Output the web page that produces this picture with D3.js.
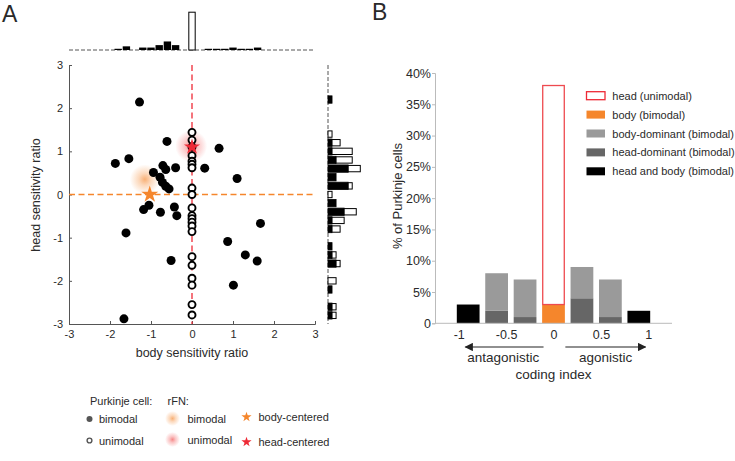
<!DOCTYPE html>
<html><head><meta charset="utf-8">
<script src="https://cdn.jsdelivr.net/npm/d3@7"></script>
<style>
body{margin:0;background:#fff;}
svg{font-family:"Liberation Sans",Arial,Helvetica,sans-serif;}
</style></head>
<body>
<svg id="chart" width="735" height="461"></svg>
<script>
// ---------- Panel A data ----------
const bimodalX = [-1.28,-0.61,0.66,-1.87,-1.54,-0.71,-0.64,-0.40,0.31,-0.94,-0.78,-0.72,-0.64,-0.56,1.10,-1.18,-1.05,-0.77,-0.43,-0.37,1.67,-1.61,0.87,1.30,-0.51,1.59,1.01,-1.66];
const bimodalY = [2.14,1.23,1.07,0.72,0.83,0.67,0.58,0.62,0.61,0.51,0.40,0.28,0.19,0.13,0.37,-0.35,-0.25,-0.41,-0.29,-0.49,-0.67,-0.89,-1.09,-1.40,-1.53,-1.54,-2.10,-2.88];
const unimodalY = [1.44,1.26,1.10,0.90,0.77,0.70,0.62,0.15,0.00,-0.31,-0.49,-0.56,-0.64,-0.73,-0.86,-1.44,-1.64,-1.94,-2.10,-2.55,-2.79];
const unimodalX = unimodalY.map(() => 0);
const bodyStar = [-1.03, 0.0];
const headStar = [0.0, 1.10];
const bodyGlow = [-1.15, 0.35];
const headGlow = [-0.02, 1.12];
const scatterTicks = [-3,-2,-1,0,1,2,3];

// marginal histograms (bin centres, counts)
const topBlackCenters = [-1.8,-1.6,-1.2,-1.0,-0.8,-0.6,-0.4,0.4,0.6,0.8,1.0,1.2,1.4,1.6];
const topBlackCounts  = [1,3,2,2,4,7,4,1,1,1,2,1,1,2];
const topWhiteCenters = [0.0];
const topWhiteCounts  = [31];
const rightCenters = [2.2,1.4,1.2,1.0,0.8,0.6,0.4,0.2,0.0,-0.2,-0.4,-0.6,-0.8,-1.2,-1.4,-1.6,-2.0,-2.2,-2.6,-2.8];
const rightBlack   = [1,0,1,1,2,5,2,5,0,2,4,1,1,1,1,2,0,1,1,1];
const rightWhite   = [0,1,2,5,4,3,0,1,1,0,3,3,2,0,1,1,2,0,1,1];

// ---------- Panel B data ----------
const codingBins = [-0.9,-0.6,-0.3,0,0.3,0.6,0.9];
const headUni    = [0,0,0,35,0,0,0];
const bodyBi     = [0,0,0,3,0,0,0];
const bodyDom    = [0,6,6,0,5,6,0];
const headDom    = [0,2,1,0,4,1,0];
const headBody   = [3,0,0,0,0,0,2];
const pctTicks = [0,5,10,15,20,25,30,35,40];
const codingTicks = [-1,-0.5,0,0.5,1];
const legendB = ["head (unimodal)","body (bimodal)","body-dominant (bimodal)","head-dominant (bimodal)","head and body (bimodal)"];

const ORANGE = "#f5862c", RED = "#ee2a36", REDBAR = "#ee4a4f";
const LGRAY = "#9a9a9a", DGRAY = "#666666";
const TXT = "#2a2a2a";

const svg = d3.select("#chart");
const defs = svg.append("defs");
function glow(id, color, o){
  const g = defs.append("radialGradient").attr("id", id);
  g.append("stop").attr("offset","0%").attr("stop-color",color).attr("stop-opacity",o);
  g.append("stop").attr("offset","40%").attr("stop-color",color).attr("stop-opacity",o*0.5);
  g.append("stop").attr("offset","100%").attr("stop-color",color).attr("stop-opacity",0);
}
glow("gOrange", ORANGE, 0.65);
glow("gRed", "#f03a3a", 0.6);
const star = d3.symbol().type(d3.symbolStar);

// ---------- Panel A ----------
const x = d3.scaleLinear().domain([-3,3]).range([69,315]);
const y = d3.scaleLinear().domain([-3,3]).range([324,65]);

svg.append("text").attr("x",2).attr("y",22).attr("font-size",23).attr("fill",TXT).text("A");

const gA = svg.append("g");
const ax = gA.append("g").attr("transform","translate(0,324)")
  .call(d3.axisBottom(x).tickValues(scatterTicks).tickSize(-3).tickPadding(6).tickFormat(d3.format("d")));
const ay = gA.append("g").attr("transform","translate(69,0)")
  .call(d3.axisLeft(y).tickValues(scatterTicks).tickSize(-3).tickPadding(6).tickFormat(d3.format("d")));
[ax, ay].forEach(a=>{
  a.select(".domain").attr("stroke","#555");
  a.selectAll(".tick line").attr("stroke","#555");
  a.selectAll("text").attr("font-size",11).attr("fill",TXT).attr("font-family","Liberation Sans, Arial, sans-serif");
});
ax.selectAll("text").text(d => d<0 ? "-"+Math.abs(d) : d);
ay.selectAll("text").text(d => d<0 ? "-"+Math.abs(d) : d);

gA.append("text").attr("x",192).attr("y",357).attr("text-anchor","middle").attr("font-size",12.5).attr("fill",TXT).text("body sensitivity ratio");
gA.append("text").attr("transform","translate(40,195) rotate(-90)").attr("text-anchor","middle").attr("font-size",12.5).attr("fill",TXT).text("head sensitivity ratio");

// glows
gA.append("circle").attr("cx",x(bodyGlow[0])).attr("cy",y(bodyGlow[1])).attr("r",15).attr("fill","url(#gOrange)");
gA.append("circle").attr("cx",x(headGlow[0])).attr("cy",y(headGlow[1])).attr("r",16).attr("fill","url(#gRed)");

// dashed reference lines
gA.append("line").attr("x1",x(-3)).attr("x2",x(3)).attr("y1",y(0)).attr("y2",y(0))
  .attr("stroke",ORANGE).attr("stroke-width",1.6).attr("stroke-dasharray","6,3.5");
gA.append("line").attr("x1",x(0)).attr("x2",x(0)).attr("y1",y(3)).attr("y2",y(-3))
  .attr("stroke",RED).attr("stroke-width",1.3).attr("stroke-dasharray","6,3.5");

// points
gA.selectAll("circle.bi").data(bimodalX.map((v,i)=>[v,bimodalY[i]])).join("circle")
  .attr("class","bi").attr("cx",d=>x(d[0])).attr("cy",d=>y(d[1])).attr("r",4.5).attr("fill","#000");
gA.selectAll("circle.uni").data(unimodalX.map((v,i)=>[v,unimodalY[i]])).join("circle")
  .attr("class","uni").attr("cx",d=>x(d[0])).attr("cy",d=>y(d[1])).attr("r",3.5)
  .attr("fill","#fff").attr("stroke","#000").attr("stroke-width",1.9);

// stars
gA.append("path").attr("d",star.size(90)()).attr("transform",`translate(${x(bodyStar[0])},${y(bodyStar[1])})`).attr("fill",ORANGE);
gA.append("path").attr("d",star.size(80)()).attr("transform",`translate(${x(headStar[0])},${y(headStar[1])})`).attr("fill",RED);

// top histogram
const hTop = d3.scaleLinear().domain([0,31]).range([0,37.8]);
const baseTop = 50, bwTop = (x(0.2)-x(0))*0.9;
svg.append("line").attr("x1",x(-3)).attr("x2",x(3)).attr("y1",baseTop).attr("y2",baseTop)
  .attr("stroke","#555").attr("stroke-width",1).attr("stroke-dasharray","4,2");
svg.selectAll("rect.tb").data(topBlackCenters.map((c,i)=>[c,topBlackCounts[i]])).join("rect")
  .attr("class","tb").attr("x",d=>x(d[0])-bwTop/2).attr("width",bwTop)
  .attr("y",d=>baseTop-hTop(d[1])).attr("height",d=>hTop(d[1])).attr("fill","#000");
svg.selectAll("rect.tw").data(topWhiteCenters.map((c,i)=>[c,topWhiteCounts[i]])).join("rect")
  .attr("class","tw").attr("x",d=>x(d[0])-bwTop/2+0.5).attr("width",bwTop-1)
  .attr("y",d=>baseTop-hTop(d[1])).attr("height",d=>hTop(d[1])).attr("fill","#fff").attr("stroke","#000").attr("stroke-width",1);

// right histogram
const wR = d3.scaleLinear().domain([0,8]).range([0,32.3]);
const baseR = 328, bhR = (y(0)-y(0.2))*0.85;
svg.append("line").attr("x1",baseR).attr("x2",baseR).attr("y1",y(3)).attr("y2",y(-3))
  .attr("stroke","#555").attr("stroke-width",1).attr("stroke-dasharray","4,2");
const rData = rightCenters.map((c,i)=>({c, b:rightBlack[i], w:rightWhite[i]}));
svg.selectAll("rect.rb").data(rData.filter(d=>d.b>0)).join("rect")
  .attr("class","rb").attr("x",baseR).attr("y",d=>y(d.c)-bhR/2).attr("height",bhR)
  .attr("width",d=>wR(d.b)).attr("fill","#000").attr("stroke","#000").attr("stroke-width",0.8);
svg.selectAll("rect.rw").data(rData.filter(d=>d.w>0)).join("rect")
  .attr("class","rw").attr("x",d=>baseR+wR(d.b)).attr("y",d=>y(d.c)-bhR/2+0.5).attr("height",bhR-1)
  .attr("width",d=>wR(d.w)).attr("fill","#fff").attr("stroke","#000").attr("stroke-width",1);

// Panel A legend
const lg = svg.append("g").attr("font-size",11).attr("fill",TXT);
lg.append("text").attr("x",90).attr("y",405).text("Purkinje cell:");
lg.append("circle").attr("cx",89.5).attr("cy",419).attr("r",3).attr("fill","#555");
lg.append("text").attr("x",99).attr("y",423).text("bimodal");
lg.append("circle").attr("cx",89.5).attr("cy",440.5).attr("r",2.4).attr("fill","#fff").attr("stroke","#555").attr("stroke-width",1.4);
lg.append("text").attr("x",99).attr("y",444.5).text("unimodal");
lg.append("text").attr("x",167.5).attr("y",405).text("rFN:");
lg.append("circle").attr("cx",172.5).attr("cy",418.5).attr("r",7.5).attr("fill","url(#gOrange)");
lg.append("text").attr("x",187.5).attr("y",422.5).text("bimodal");
lg.append("circle").attr("cx",172.5).attr("cy",439.5).attr("r",7.5).attr("fill","url(#gRed)");
lg.append("text").attr("x",187.5).attr("y",443.5).text("unimodal");
lg.append("path").attr("d",star.size(32)()).attr("transform","translate(246.5,417)").attr("fill",ORANGE);
lg.append("text").attr("x",258.5).attr("y",421).text("body-centered");
lg.append("path").attr("d",star.size(32)()).attr("transform","translate(246.5,442)").attr("fill",RED);
lg.append("text").attr("x",258.5).attr("y",446).text("head-centered");

// ---------- Panel B ----------
svg.append("text").attr("x",372).attr("y",20).attr("font-size",23).attr("fill",TXT).text("B");
const xb = d3.scaleLinear().domain([-1.25,1.25]).range([435,672]);
const yb = d3.scaleLinear().domain([0,40]).range([323.3,73]);
const gB = svg.append("g");
const bw = xb(0.24)-xb(0);

const stackRows = codingBins.map((c,i)=>({c, hb:headBody[i], hd:headDom[i], bd:bodyDom[i], bo:bodyBi[i], hu:headUni[i]}));
gB.selectAll("rect.hb").data(stackRows.filter(d=>d.hb>0)).join("rect").attr("class","hb")
  .attr("x",d=>xb(d.c)-bw/2).attr("width",bw).attr("y",d=>yb(d.hb)).attr("height",d=>yb(0)-yb(d.hb)).attr("fill","#000");
gB.selectAll("rect.hd").data(stackRows.filter(d=>d.hd>0)).join("rect").attr("class","hd")
  .attr("x",d=>xb(d.c)-bw/2).attr("width",bw).attr("y",d=>yb(d.hd)).attr("height",d=>yb(0)-yb(d.hd)).attr("fill",DGRAY);
gB.selectAll("rect.bd").data(stackRows.filter(d=>d.bd>0)).join("rect").attr("class","bd")
  .attr("x",d=>xb(d.c)-bw/2).attr("width",bw).attr("y",d=>yb(d.hd+d.bd)).attr("height",d=>yb(d.hd)-yb(d.hd+d.bd)).attr("fill",LGRAY);
gB.selectAll("rect.bo").data(stackRows.filter(d=>d.bo>0)).join("rect").attr("class","bo")
  .attr("x",d=>xb(d.c)-bw/2).attr("width",bw).attr("y",d=>yb(d.bo)).attr("height",d=>yb(0)-yb(d.bo)).attr("fill",ORANGE);
gB.selectAll("rect.hu").data(stackRows.filter(d=>d.hu>0)).join("rect").attr("class","hu")
  .attr("x",d=>xb(d.c)-bw/2+0.6).attr("width",bw-1.2).attr("y",d=>yb(d.bo+d.hu)).attr("height",d=>yb(d.bo)-yb(d.bo+d.hu))
  .attr("fill","none").attr("stroke",REDBAR).attr("stroke-width",1.3);

const axB = gB.append("g").attr("transform",`translate(0,${yb(0)})`)
  .call(d3.axisBottom(xb).tickValues(codingTicks).tickSize(0).tickPadding(7).tickFormat(d=> d===0?"0":(d<0?"-"+Math.abs(d):d)));
const ayB = gB.append("g").attr("transform",`translate(${xb(-1.25)},0)`)
  .call(d3.axisLeft(yb).tickValues(pctTicks).tickSize(3).tickPadding(1).tickFormat(d=> d===0?"0":d+"%"));
[axB, ayB].forEach(a=>{
  a.select(".domain").attr("stroke","#bbb").attr("stroke-width",1);
  a.selectAll(".tick line").attr("stroke","#bbb");
  a.selectAll("text").attr("font-size",12.5).attr("fill",TXT).attr("font-family","Liberation Sans, Arial, sans-serif");
});
axB.select(".domain").attr("d",`M${xb(-1.25)},0H${xb(1.25)}`);

gB.append("text").attr("transform",`translate(402,196) rotate(-90)`).attr("text-anchor","middle")
  .attr("font-size",13).attr("fill",TXT).text("% of Purkinje cells");

// arrows
defs.append("marker").attr("id","arr").attr("viewBox","0 0 10 10").attr("refX",9).attr("refY",5)
  .attr("markerWidth",7).attr("markerHeight",7).attr("orient","auto-start-reverse")
  .append("path").attr("d","M0,0L10,5L0,10z").attr("fill","#222");
gB.append("line").attr("x1",xb(-0.105)).attr("x2",xb(-0.93)).attr("y1",347).attr("y2",347)
  .attr("stroke","#222").attr("stroke-width",1.2).attr("marker-end","url(#arr)");
gB.append("line").attr("x1",xb(0.125)).attr("x2",xb(0.97)).attr("y1",347).attr("y2",347)
  .attr("stroke","#222").attr("stroke-width",1.2).attr("marker-end","url(#arr)");
gB.append("text").attr("x",xb(-0.53)).attr("y",362).attr("text-anchor","middle").attr("font-size",13.5).attr("fill",TXT).text("antagonistic");
gB.append("text").attr("x",xb(0.55)).attr("y",362).attr("text-anchor","middle").attr("font-size",13.5).attr("fill",TXT).text("agonistic");
gB.append("text").attr("x",xb(0)).attr("y",379).attr("text-anchor","middle").attr("font-size",13.5).attr("fill",TXT).text("coding index");

// legend B
const legFill = ["#fff",ORANGE,LGRAY,DGRAY,"#000"];
const lgB = gB.append("g");
legendB.forEach((t,i)=>{
  const cy = 95.7 + i*18.9;
  lgB.append("rect").attr("x",586.5).attr("y",cy-4).attr("width",18.5).attr("height",8)
    .attr("fill",legFill[i]).attr("stroke", i===0?RED:"none").attr("stroke-width",1.3);
  lgB.append("text").attr("x",612.3).attr("y",cy+4).attr("font-size",11).attr("fill",TXT).text(t);
});
</script>
</body></html>
